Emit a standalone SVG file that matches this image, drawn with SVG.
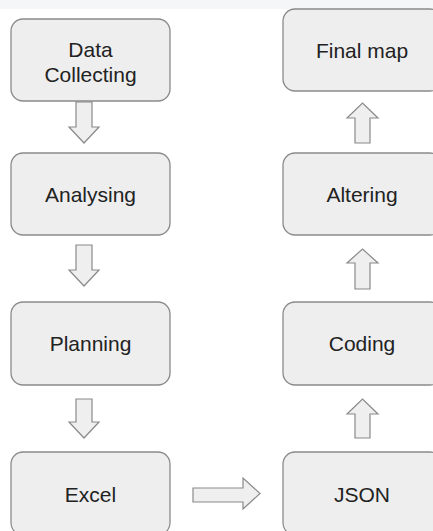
<svg xmlns="http://www.w3.org/2000/svg" width="433" height="531" viewBox="0 0 433 531">
<style>
.box{fill:#eeeeee;stroke:#8a8a8a;stroke-width:1.3}
.arr{fill:#efefef;stroke:#8a8a8a;stroke-width:1.2;stroke-linejoin:miter}
.t{font-family:"Liberation Sans",Arial,sans-serif;font-size:21px;fill:#222;text-anchor:middle}
</style>
<rect x="0" y="0" width="433" height="531" fill="#ffffff"/>
<rect x="0" y="0" width="433" height="9" fill="#f5f6f8"/>
<g id="data-collecting"><rect class="box" x="11" y="19" width="159" height="82" rx="12"/><text class="t" x="90.5" y="57">Data</text><text class="t" x="90.5" y="82">Collecting</text></g>
<g id="analysing"><rect class="box" x="11" y="153" width="159" height="82" rx="12"/><text class="t" x="90.5" y="202">Analysing</text></g>
<g id="planning"><rect class="box" x="11" y="302" width="159" height="83" rx="12"/><text class="t" x="90.5" y="351">Planning</text></g>
<g id="excel"><rect class="box" x="11" y="452" width="159" height="83" rx="12"/><text class="t" x="90.5" y="502">Excel</text></g>
<g id="json"><rect class="box" x="283" y="452" width="159" height="83" rx="12"/><text class="t" x="362" y="502">JSON</text></g>
<g id="coding"><rect class="box" x="283" y="302" width="159" height="83" rx="12"/><text class="t" x="362" y="351">Coding</text></g>
<g id="altering"><rect class="box" x="283" y="153" width="159" height="82" rx="12"/><text class="t" x="362" y="202">Altering</text></g>
<g id="final-map"><rect class="box" x="283" y="9" width="159" height="82" rx="12"/><text class="t" x="362" y="58">Final map</text></g>
<g id="connectors">
<polygon class="arr" points="76,102 92,102 92,127 99,127 84,143 69,127 76,127"/>
<polygon class="arr" points="76,245 92,245 92,270 99,270 84,286 69,270 76,270"/>
<polygon class="arr" points="76,399 92,399 92,422 99,422 84,438 69,422 76,422"/>
<polygon class="arr" points="193,488 243,488 243,478 260,493.5 243,509 243,502 193,502"/>
<polygon class="arr" points="355,438 370,438 370,414 378,414 362.5,399 347,414 355,414"/>
<polygon class="arr" points="355,289 370,289 370,263 378,263 362.5,249 347,263 355,263"/>
<polygon class="arr" points="355,143 370,143 370,118 378,118 362.5,103 347,118 355,118"/>
</g>
</svg>
